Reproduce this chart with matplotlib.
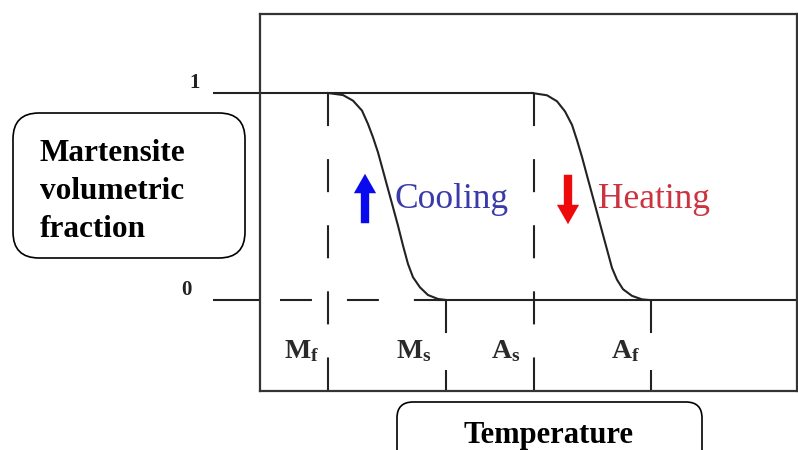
import matplotlib
matplotlib.use("Agg")
import matplotlib.pyplot as plt
from matplotlib.patches import FancyBboxPatch, FancyArrowPatch

plt.rcParams['lines.scale_dashes'] = False
plt.rcParams['mathtext.fontset'] = 'custom'
plt.rcParams['mathtext.rm'] = 'Liberation Serif'
plt.rcParams['mathtext.it'] = 'Liberation Serif:italic'
plt.rcParams['mathtext.bf'] = 'Liberation Serif:bold'

# ---------------- data (temperature in arbitrary units) ----------------
temps_cool = [328, 343, 353, 362, 368, 373, 378, 383, 388, 393, 398, 403, 408, 413, 420, 428, 438, 446]
frac_cool = [1.0, 0.990, 0.963, 0.915, 0.850, 0.786, 0.713, 0.625, 0.536, 0.448, 0.359, 0.263,
             0.174, 0.110, 0.061, 0.024, 0.005, 0.0]
temps_heat = [532, 547, 557, 565, 572, 577, 582, 587, 592, 597, 602, 607, 612, 617, 623, 632, 642, 649]
frac_heat = [1.0, 0.989, 0.960, 0.911, 0.846, 0.772, 0.691, 0.601, 0.512, 0.423, 0.333, 0.244,
             0.155, 0.098, 0.052, 0.020, 0.003, 0.0]

transition_names = ['M_f', 'M_s', 'A_s', 'A_f']
transition_temps = [328, 446, 534, 651]
level_labels = ['1', '0']
level_values = [1.0, 0.0]

T_left, T_min, T_max = 213, 260, 797

# ---------------- figure ----------------
W, H = 798, 450
fig = plt.figure(figsize=(W / 100, H / 100), dpi=100)

def fy(py):  # pixel row -> fraction
    return (300 - py) / 207.0

frame_top, frame_bot = 14, 391
ax = fig.add_axes([T_min / W, (H - frame_bot) / H, (T_max - T_min) / W, (frame_bot - frame_top) / H])
ax.set_xlim(T_min, T_max)
ax.set_ylim(fy(frame_bot), fy(frame_top))
ax.set_xticks([])
ax.set_yticks([])
for s in ax.spines.values():
    s.set_linewidth(1.6)
    s.set_color('#333333')

lc = '#222222'
lw = 1.5

# level 1 line
ax.plot([T_left, transition_temps[2]], [1, 1], color=lc, lw=lw, clip_on=False, solid_capstyle='butt')
# level 0 line: solid outside frame, dashed until Ms, solid after
ax.plot([T_left, T_min], [0, 0], color=lc, lw=lw, clip_on=False, solid_capstyle='butt')
ax.plot([T_min, transition_temps[1]], [0, 0], color=lc, lw=lw,
        linestyle=(33.8, (23, 25.2)), dash_capstyle='butt')
ax.plot([temps_cool[-2], T_max], [0, 0], color=lc, lw=lw, solid_capstyle='butt')

# curves
ax.plot(temps_cool, frac_cool, color=lc, lw=lw, solid_joinstyle='round')
ax.plot(temps_heat, frac_heat, color=lc, lw=lw, solid_joinstyle='round')

# vertical dashed lines
bottom = fy(frame_bot)
for i, T in enumerate(transition_temps):
    if i in (0, 2):
        ax.plot([T, T], [1, bottom], color=lc, lw=lw, linestyle=(0, (23.8, 23.8)), dash_capstyle='butt')
    else:
        ax.plot([T, T], [0, bottom], color=lc, lw=lw, linestyle=(0, (23.8, 26.6)), dash_capstyle='butt')

# transition labels
label_offsets = [-26, -32, -28, -26]
for name, T, off in zip(transition_names, transition_temps, label_offsets):
    base, sub = name.split('_')
    ax.text(T + off, fy(358), r'$\mathbf{%s}_{\mathbf{%s}}$' % (base, sub),
            fontsize=20, color='#2a2a2a', ha='center', va='baseline')

# level labels
level_x = [195, 186]
level_base = [88, 295]
for lab, xx, bb in zip(level_labels, level_x, level_base):
    ax.text(xx, fy(bb), lab, fontsize=15, fontweight='bold',
            family='Liberation Serif', ha='center', va='baseline', color='#222222', clip_on=False)

# ---------------- overlay in pixel coords for annotations ----------------
ov = fig.add_axes([0, 0, 1, 1], facecolor='none')
ov.set_xlim(0, W)
ov.set_ylim(H, 0)
ov.axis('off')

box1 = FancyBboxPatch((13, 113), 232, 145, boxstyle='round,pad=0,rounding_size=26',
                      fc='white', ec='black', lw=1.2)
ov.add_patch(box1)
ov.text(40, 237, 'Martensite\nvolumetric\nfraction', fontsize=22.5, fontweight='bold',
        family='Liberation Serif', ha='left', va='baseline', linespacing=1.42, color='black')

box2 = FancyBboxPatch((397, 402), 305, 70, boxstyle='round,pad=0,rounding_size=16',
                      fc='white', ec='black', lw=1.2, clip_on=False)
ov.add_patch(box2)
ov.text(548, 443, 'Temperature', fontsize=22, fontweight='bold', family='Liberation Serif',
        ha='center', va='baseline', color='black')

ov.text(395, 208, 'Cooling', fontsize=25.5, family='Liberation Serif', color='#3a3aaa',
        ha='left', va='baseline')
ov.text(598, 208, 'Heating', fontsize=25.5, family='Liberation Serif', color='#cc3340',
        ha='left', va='baseline')

a1 = FancyArrowPatch((365, 226), (365, 171), arrowstyle='simple,head_width=1.6,head_length=1.4,tail_width=0.6',
                     mutation_scale=10, color='#0a0aee', lw=0)
ov.add_patch(a1)
a2 = FancyArrowPatch((568, 172), (568, 227), arrowstyle='simple,head_width=1.6,head_length=1.4,tail_width=0.6',
                     mutation_scale=10, color='#ee0a0a', lw=0)
ov.add_patch(a2)

fig.savefig('out.png', dpi=100)
